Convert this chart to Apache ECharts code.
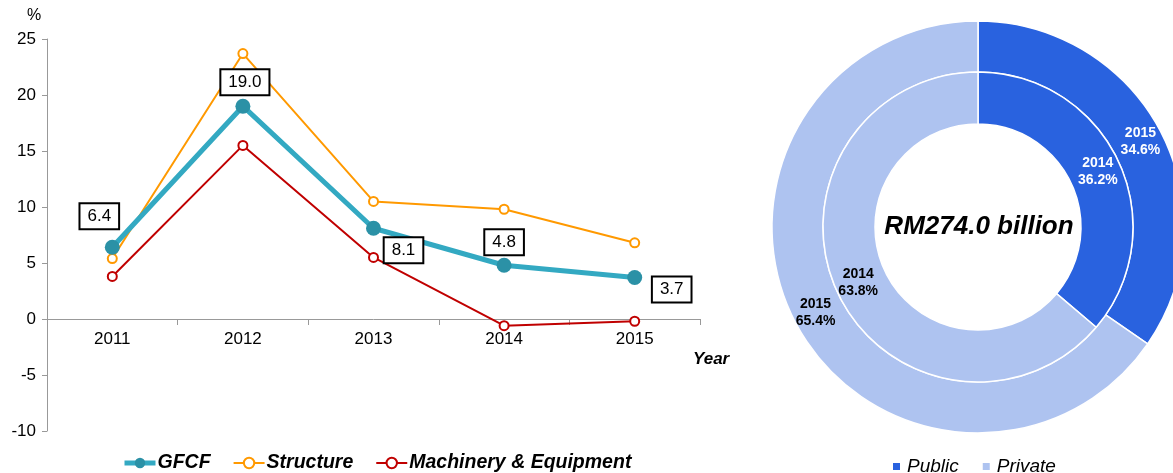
<!DOCTYPE html>
<html>
<head>
<meta charset="utf-8">
<script src="https://cdn.jsdelivr.net/npm/echarts@6/dist/echarts.min.js"></script>
<style>
  html, body { margin: 0; padding: 0; background: #fff; }
  #main { width: 1173px; height: 473px; }
</style>
</head>
<body>
<div id="main"></div>
<script>
// growth rates, %
const years = ['2011', '2012', '2013', '2014', '2015'];
const gfcf = [6.4, 19.0, 8.1, 4.8, 3.7];
const structure = [5.4, 23.7, 10.5, 9.8, 6.8];
const machinery = [3.8, 15.5, 5.5, -0.6, -0.2];
// label offsets for the boxed GFCF values
const gfcfLabelOffsets = [[-13, -31], [2, -24], [30, 22], [0, -23], [37, 12]];

// share of investment
const shareNames = ['Public', 'Private'];
const share2015 = [34.6, 65.4];
const share2014 = [36.2, 63.8];

const FONT = 'Liberation Sans, Arial, sans-serif';
const publicColor = '#2962DF';
const privateColor = '#AEC3F0';

let chart = echarts.init(document.getElementById('main'));

function ring(year, values, radius) {
  return {
    type: 'pie',
    name: year,
    center: [978, 227],
    radius: radius,
    startAngle: 90,
    clockwise: true,
    silent: true,
    itemStyle: { borderColor: '#fff', borderWidth: 1.5 },
    label: {
      show: true,
      position: 'inside',
      formatter: p => year + '\n' + p.value.toFixed(1) + '%',
      fontFamily: FONT,
      fontWeight: 'bold',
      fontSize: 14,
      lineHeight: 17
    },
    labelLine: { show: false },
    data: shareNames.map((n, i) => ({
      name: n,
      value: values[i],
      itemStyle: { color: i === 0 ? publicColor : privateColor },
      label: { color: i === 0 ? '#fff' : '#000' }
    }))
  };
}

let option = {
  animation: false,
  textStyle: { fontFamily: FONT },
  grid: { left: 47, width: 653, top: 39, height: 392 },
  legend: [
    {
      data: [
        { name: 'GFCF', itemStyle: { color: '#2B91A6', borderWidth: 0 }, lineStyle: { width: 5, color: '#33A9C2' } },
        { name: 'Structure', itemStyle: { color: '#fff', borderColor: '#FF9900', borderWidth: 2 } },
        { name: 'Machinery & Equipment', itemStyle: { color: '#fff', borderColor: '#C00000', borderWidth: 2 } }
      ],
      left: 117,
      top: 448,
      itemWidth: 31,
      itemHeight: 13,
      itemGap: 22,
      textStyle: { fontFamily: FONT, fontSize: 19.5, fontWeight: 'bold', fontStyle: 'italic', color: '#000', padding: [0, 0, 0, -3] }
    },
    {
      data: shareNames,
      left: 886,
      top: 452,
      icon: 'rect',
      itemWidth: 9,
      itemHeight: 9,
      itemGap: 22,
      textStyle: { fontFamily: FONT, fontSize: 19, fontStyle: 'italic', color: '#000', padding: [0, 0, 0, 1] }
    }
  ],
  xAxis: {
    type: 'category',
    data: years,
    boundaryGap: true,
    offset: -112,
    axisLine: { onZero: false, lineStyle: { color: '#999', width: 1 } },
    axisTick: { show: true, length: 6, lineStyle: { color: '#999' } },
    axisLabel: { color: '#000', fontSize: 17, margin: 12 },
    splitLine: { show: false }
  },
  yAxis: {
    type: 'value',
    min: -10,
    max: 25,
    interval: 5,
    axisLine: { show: true, lineStyle: { color: '#999', width: 1 } },
    axisTick: { show: true, length: 5, lineStyle: { color: '#999' } },
    axisLabel: { color: '#000', fontSize: 17, margin: 11 },
    splitLine: { show: false }
  },
  graphic: [
    { type: 'text', left: 27, top: 8, style: { text: '%', fontFamily: FONT, fontSize: 16, fill: '#000' } },
    { type: 'text', left: 693, top: 351, style: { text: 'Year', fontFamily: FONT, fontSize: 17, fontWeight: 'bold', fontStyle: 'italic', fill: '#000' } },
    { type: 'text', x: 979, y: 227, style: { text: 'RM274.0 billion', fontFamily: FONT, fontSize: 26, fontWeight: 'bold', fontStyle: 'italic', fill: '#000', align: 'center', verticalAlign: 'middle' }, z: 100 }
  ],
  series: [
    {
      name: 'Structure',
      type: 'line',
      data: structure,
      color: '#FF9900',
      lineStyle: { width: 2, color: '#FF9900' },
      symbol: 'circle',
      symbolSize: 9,
      itemStyle: { color: '#fff', borderColor: '#FF9900', borderWidth: 2 },
      z: 2
    },
    {
      name: 'Machinery & Equipment',
      type: 'line',
      data: machinery,
      color: '#C00000',
      lineStyle: { width: 2, color: '#C00000' },
      symbol: 'circle',
      symbolSize: 9,
      itemStyle: { color: '#fff', borderColor: '#C00000', borderWidth: 2 },
      z: 2
    },
    {
      name: 'GFCF',
      type: 'line',
      data: gfcf.map((v, i) => ({
        value: v,
        label: { offset: gfcfLabelOffsets[i] }
      })),
      color: '#2B91A6',
      lineStyle: { width: 5, color: '#33A9C2' },
      symbol: 'circle',
      symbolSize: 15,
      itemStyle: { color: '#2B91A6', borderWidth: 0 },
      label: {
        show: true,
        position: 'inside',
        formatter: p => p.value.toFixed(1),
        color: '#000',
        fontSize: 17,
        backgroundColor: '#fff',
        borderColor: '#000',
        borderWidth: 2,
        padding: [4, 7, 3, 7]
      },
      z: 3
    },
    ring('2015', share2015, [155, 206]),
    ring('2014', share2014, [103, 155])
  ]
};

chart.setOption(option);
</script>
</body>
</html>
